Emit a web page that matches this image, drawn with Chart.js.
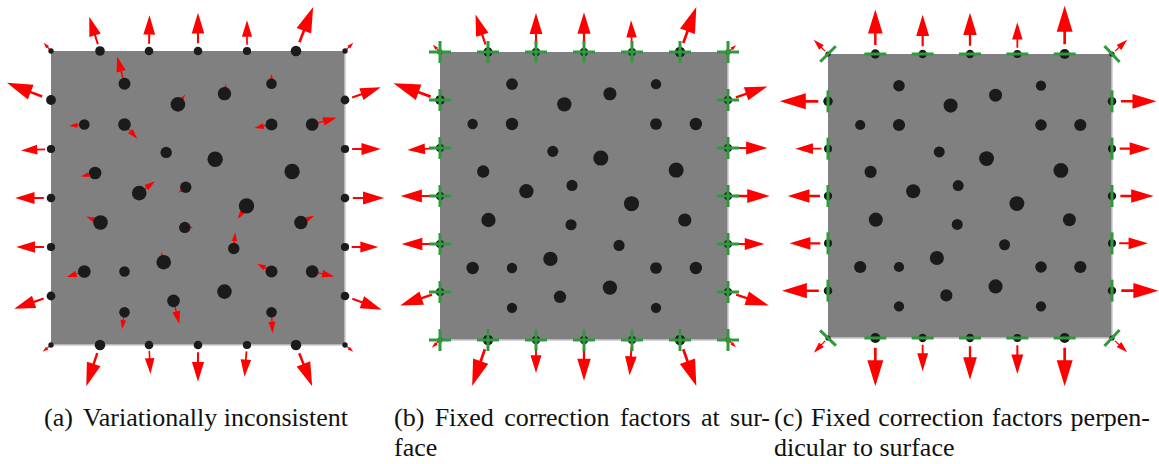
<!DOCTYPE html>
<html>
<head>
<meta charset="utf-8">
<script src="https://cdn.jsdelivr.net/npm/chart.js@4.4.1/dist/chart.umd.min.js"></script>
<style>
  html, body { margin: 0; padding: 0; background: #fff; }
  #fig { position: relative; width: 1159px; height: 464px; overflow: hidden; }
  canvas { position: absolute; top: 0; }
  .cap { position: absolute; font-family: 'Liberation Serif', 'Times New Roman', serif;
         font-size: 26px; line-height: 30px; color: #111; white-space: nowrap; }
  .cap .l1 { text-align: justify; text-align-last: justify; }
  .cap .l2 { text-align: left; }
  .cap.center { text-align: center; }
  .lbl { margin-right: 4px; }
</style>
</head>
<body>
<div id="fig">
  <canvas id="pa" width="390" height="390" style="left:0px"></canvas>
  <canvas id="pb" width="385" height="390" style="left:390px"></canvas>
  <canvas id="pc" width="384" height="390" style="left:775px"></canvas>
  <div class="cap center" id="capA" style="left:8px; top:403px; width:376px;"></div>
  <div class="cap" id="capB" style="left:394px; top:403px; width:376px;"></div>
  <div class="cap" id="capC" style="left:774px; top:403px; width:376px;"></div>
</div>
<script>
// Domain: a 6 x 6 box, y pointing up.

// Interior particles (centre and radius, domain units)
const particleX = [1.50, 2.59, 3.54, 4.50, 0.68, 1.50, 4.50, 5.33, 2.35, 3.35, 0.90, 4.92, 1.80, 2.75,
                   3.99, 1.01, 2.73, 5.10, 3.73, 0.68, 1.50, 2.30, 4.50, 5.33, 3.54, 2.50, 1.50, 4.50];
const particleY = [5.33, 4.91, 5.13, 5.33, 4.50, 4.50, 4.50, 4.50, 3.93, 3.79, 3.51, 3.54, 3.10, 3.22,
                   2.84, 2.50, 2.40, 2.50, 1.97, 1.50, 1.50, 1.69, 1.50, 1.50, 1.09, 0.90, 0.67, 0.67];
const particleR = [0.122, 0.149, 0.137, 0.108, 0.108, 0.129, 0.122, 0.129, 0.116, 0.157, 0.129, 0.157, 0.149, 0.116,
                   0.157, 0.149, 0.116, 0.137, 0.116, 0.129, 0.108, 0.149, 0.122, 0.129, 0.149, 0.129, 0.108, 0.108];

// Surface nodes: top row (left to right), right side (top to bottom),
// bottom row (right to left), left side (bottom to top)
const nodeX = [0, 1, 2, 3, 4, 5, 6,  6, 6, 6, 6, 6,  6, 5, 4, 3, 2, 1, 0,  0, 0, 0, 0, 0];
const nodeY = [6, 6, 6, 6, 6, 6, 6,  5, 4, 3, 2, 1,  0, 0, 0, 0, 0, 0, 0,  1, 2, 3, 4, 5];
const nodeR = [0.055, 0.098, 0.088, 0.088, 0.084, 0.108, 0.055,
               0.090, 0.084, 0.088, 0.084, 0.088,
               0.055, 0.108, 0.084, 0.088, 0.088, 0.108, 0.055,
               0.090, 0.084, 0.088, 0.084, 0.100];

// (a) variationally inconsistent: forces on surface nodes and on particles
const forceA_nodeU = [-0.15, -0.22, 0.01, 0.00, 0.00, 0.35, 0.17,
                      0.73, 0.73, 0.80, 0.68, 0.75,
                      0.17, 0.33, -0.05, 0.00, 0.03, -0.28, -0.17,
                      -0.75, -0.71, -0.73, -0.61, -0.90];
const forceA_nodeV = [0.17, 0.70, 0.73, 0.78, 0.63, 0.90, 0.17,
                      0.26, 0.00, 0.00, 0.00, -0.28,
                      -0.14, -0.84, -0.65, -0.75, -0.59, -0.84, -0.14,
                      -0.26, 0.00, 0.00, -0.03, 0.35];
const forceA_partU = [-0.15, 0.15, 0.03, 0.00, -0.31, 0.26, -0.35, 0.50, 0, 0, -0.29, 0, 0.32, -0.15,
                      -0.18, -0.29, 0.17, 0.27, 0.03, -0.36, 0, -0.05, -0.29, 0.45, 0, 0.12, -0.05, 0.02];
const forceA_partV = [0.56, 0.20, 0.20, 0.20, -0.03, -0.29, -0.07, 0.14, 0, 0, -0.07, 0, 0.24, -0.11,
                      -0.27, 0.12, 0.00, 0.14, 0.33, -0.11, 0, 0.21, 0.16, -0.10, 0, -0.47, -0.35, -0.43];

// (b) fixed correction factors at surface
const forceB_nodeU = [-0.15, -0.26, 0.00, 0.00, -0.02, 0.34, 0.17,
                      0.82, 0.82, 0.87, 0.76, 0.85,
                      0.17, 0.34, -0.05, 0.00, 0.00, -0.33, -0.17,
                      -0.83, -0.80, -0.82, -0.68, -0.97];
const forceB_nodeV = [0.15, 0.78, 0.81, 0.83, 0.66, 0.94, 0.14,
                      0.28, 0.00, 0.00, 0.00, -0.28,
                      -0.15, -0.96, -0.74, -0.85, -0.69, -0.96, -0.16,
                      -0.28, 0.00, 0.00, -0.04, 0.35];

// (c) fixed correction factors perpendicular to surface
const forceC_nodeU = [-0.30, 0.00, 0.00, 0.00, 0.00, 0.00, 0.32,
                      0.94, 0.81, 0.88, 0.76, 0.98,
                      0.32, 0.00, 0.00, 0.00, 0.00, 0.00, -0.30,
                      -0.97, -0.81, -0.85, -0.69, -1.02];
const forceC_nodeV = [0.30, 0.94, 0.83, 0.87, 0.67, 1.02, 0.30,
                      0.00, 0.00, 0.00, 0.00, 0.00,
                      -0.30, -1.02, -0.76, -0.88, -0.70, -1.02, -0.31,
                      0.00, 0.00, 0.00, 0.00, 0.00];

const captionLabels = ['(a)', '(b)', '(c)'];
const captionTexts = [
  ['Variationally inconsistent'],
  ['Fixed correction factors at sur-', 'face'],
  ['Fixed correction factors perpen-', 'dicular to surface']
];

const COLORS = { domain: '#808080', edge: '#c9c9c9', particle: '#1b1b1b', force: '#ff0000', marker: '#2e9a3c' };

// Fills the box and outlines its lower/right rims
const domainPlugin = {
  id: 'domain',
  beforeDatasetsDraw(chart) {
    const { ctx, chartArea: a } = chart;
    ctx.save();
    ctx.fillStyle = COLORS.domain;
    ctx.fillRect(a.left, a.top, a.right - a.left, a.bottom - a.top);
    ctx.strokeStyle = COLORS.edge;
    ctx.lineWidth = 1.5;
    ctx.beginPath();
    ctx.moveTo(a.right, a.top);
    ctx.lineTo(a.right, a.bottom);
    ctx.lineTo(a.left, a.bottom);
    ctx.stroke();
    ctx.restore();
  }
};

// Draws each point of a "quiver" dataset as an arrow glyph scaled by its vector
const quiverPlugin = {
  id: 'quiver',
  afterDatasetDraw(chart, args) {
    const ds = chart.data.datasets[args.index];
    if (!ds.quiver) return;
    const xs = chart.scales.x, ys = chart.scales.y, ctx = chart.ctx;
    const g = ds.quiver;
    ctx.save();
    ctx.fillStyle = g.color;
    args.meta.data.forEach((pt, i) => {
      const d = ds.data[i];
      const tx = xs.getPixelForValue(d.x + d.u), ty = ys.getPixelForValue(d.y + d.v);
      const dx = tx - pt.x, dy = ty - pt.y;
      const L = Math.hypot(dx, dy);
      if (L < 1) return;
      const ux = dx / L, uy = dy / L, nx = -uy, ny = ux;
      const s0 = g.start * L, hb = g.headBase * L, hw = g.headHalf * L;
      const sw = Math.max(0.6, g.shaftHalf * L);
      const P = (a, b) => [pt.x + ux * a + nx * b, pt.y + uy * a + ny * b];
      const pts = [P(s0, sw), P(hb, sw), P(hb, hw), [tx, ty], P(hb, -hw), P(hb, -sw), P(s0, -sw)];
      ctx.beginPath();
      ctx.moveTo(pts[0][0], pts[0][1]);
      for (let k = 1; k < pts.length; k++) ctx.lineTo(pts[k][0], pts[k][1]);
      ctx.closePath();
      ctx.fill();
    });
    ctx.restore();
  }
};

const unitPx = chart => Math.abs(chart.scales.x.getPixelForValue(1) - chart.scales.x.getPixelForValue(0));

function particleData() {
  const pts = particleX.map((x, i) => ({ x, y: particleY[i], r: particleR[i] }));
  return pts.concat(nodeX.map((x, i) => ({ x, y: nodeY[i], r: nodeR[i] })));
}

function forceData(nodeU, nodeV, partU, partV) {
  const out = nodeX.map((x, i) => ({ x, y: nodeY[i], u: nodeU[i], v: nodeV[i] }));
  if (partU) {
    particleX.forEach((x, i) => {
      if (partU[i] !== 0 || partV[i] !== 0) out.push({ x, y: particleY[i], u: partU[i], v: partV[i] });
    });
  }
  return out;
}

// Surface tangent direction at each node (screen degrees), perpendicular to the node normal
function tangentDeg(u, v) {
  return Math.atan2(-v, u) * 180 / Math.PI + 90;
}

function makePanel(id, padding, forces, marker) {
  const datasets = [
    {
      label: 'force',
      data: forces,
      quiver: { color: COLORS.force, start: 0.2, headBase: 0.46, headHalf: 0.165, shaftHalf: 0.028 },
      pointRadius: 0,
      showLine: false,
      clip: false,
      order: 3
    },
    {
      label: 'particles',
      data: particleData(),
      pointRadius: c => (c.raw ? c.raw.r * unitPx(c.chart) : 0),
      pointBackgroundColor: COLORS.particle,
      pointBorderWidth: 0,
      showLine: false,
      clip: false,
      order: 2
    }
  ];
  if (marker) {
    datasets.push({
      label: 'correction',
      data: nodeX.map((x, i) => ({ x, y: nodeY[i], rot: marker.rot ? marker.rot[i] : 0 })),
      pointStyle: marker.style,
      pointRadius: 11,
      pointRotation: c => (c.raw ? c.raw.rot : 0),
      pointBorderColor: COLORS.marker,
      pointBackgroundColor: COLORS.marker,
      pointBorderWidth: 3,
      showLine: false,
      clip: false,
      order: 1
    });
  }
  return new Chart(document.getElementById(id), {
    type: 'scatter',
    data: { datasets },
    options: {
      responsive: false,
      animation: false,
      events: [],
      layout: { padding },
      plugins: { legend: { display: false }, tooltip: { enabled: false } },
      scales: {
        x: { type: 'linear', min: 0, max: 6, display: false },
        y: { type: 'linear', min: 0, max: 6, display: false }
      }
    },
    plugins: [domainPlugin, quiverPlugin]
  });
}

makePanel('pa', { left: 51, top: 51, right: 45, bottom: 45 },
  forceData(forceA_nodeU, forceA_nodeV, forceA_partU, forceA_partV), null);

makePanel('pb', { left: 50, top: 52, right: 47, bottom: 50 },
  forceData(forceB_nodeU, forceB_nodeV), { style: 'cross' });

makePanel('pc', { left: 53, top: 54, right: 47, bottom: 52 },
  forceData(forceC_nodeU, forceC_nodeV),
  { style: 'line', rot: forceC_nodeU.map((u, i) => tangentDeg(u, forceC_nodeV[i])) });

// Captions
const capIds = ['capA', 'capB', 'capC'];
capIds.forEach((id, k) => {
  const el = document.getElementById(id);
  const lines = captionTexts[k];
  if (lines.length === 1) {
    el.innerHTML = '<span class="lbl">' + captionLabels[k] + '</span> ' + lines[0];
  } else {
    el.innerHTML = '<div class="l1">' + captionLabels[k] + ' ' + lines[0] + '</div>' +
                   '<div class="l2">' + lines[1] + '</div>';
  }
});
</script>
</body>
</html>
